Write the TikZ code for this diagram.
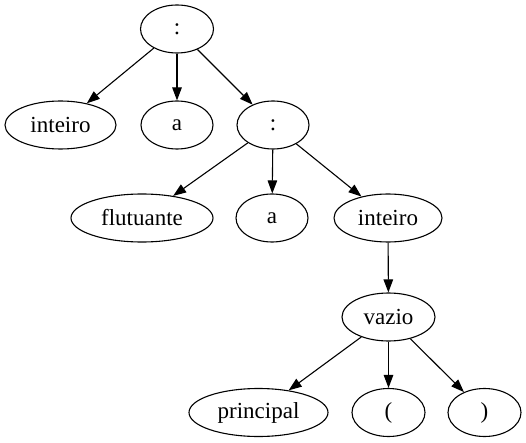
\documentclass[tikz,border=0pt]{standalone}
\usepackage{fontspec}
\setmainfont{Liberation Serif}
\usetikzlibrary{shapes.geometric,arrows.meta}
\begin{document}
\begin{tikzpicture}[x=1pt,y=-1pt,
  nd/.style={ellipse,draw,line width=1.1pt,inner sep=0pt,font=\fontsize{23}{25}\selectfont},
  ed/.style={line width=1.1pt,-{Triangle[length=13pt,width=9.5pt]}}]
\useasboundingbox (0,0) rectangle (526,443);
\node[nd,minimum width=73pt,minimum height=48pt] (r) at (177,29) {:};
\node[nd,minimum width=111pt,minimum height=48pt] (i1) at (60.5,125) {inteiro};
\node[nd,minimum width=72pt,minimum height=48pt] (a1) at (177,125) {a};
\node[nd,minimum width=72pt,minimum height=48pt] (c2) at (273,125) {:};
\node[nd,minimum width=142pt,minimum height=48pt] (f) at (142,218) {flutuante};
\node[nd,minimum width=72pt,minimum height=48pt] (a2) at (272,218) {a};
\node[nd,minimum width=108pt,minimum height=48pt] (i2) at (388,218) {inteiro};
\node[nd,minimum width=93pt,minimum height=48pt] (v) at (388.5,317) {vazio};
\node[nd,minimum width=139pt,minimum height=48pt] (p) at (258.5,412.5) {principal};
\node[nd,minimum width=73pt,minimum height=48pt] (lp) at (388.5,412.5) {(};
\node[nd,minimum width=73pt,minimum height=48pt] (rp) at (484.5,412.5) {)};
\draw[ed] (r) -- (i1);
\draw[ed] (r) -- (a1);
\draw[ed] (r) -- (c2);
\draw[ed] (c2) -- (f);
\draw[ed] (c2) -- (a2);
\draw[ed] (c2) -- (i2);
\draw[ed] (i2) -- (v);
\draw[ed] (v) -- (p);
\draw[ed] (v) -- (lp);
\draw[ed] (v) -- (rp);
\end{tikzpicture}
\end{document}
